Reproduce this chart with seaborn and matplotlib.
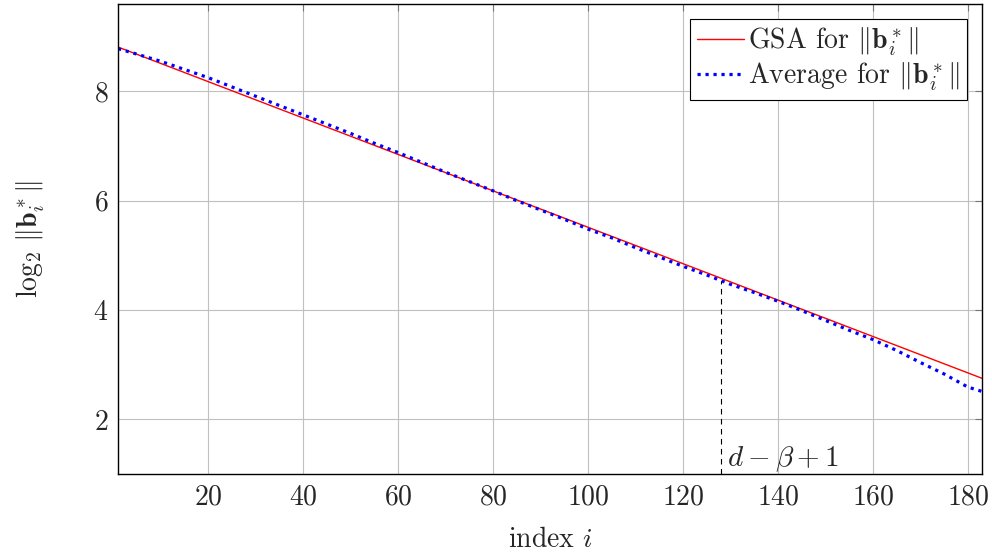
import matplotlib
matplotlib.use("Agg")
import matplotlib.pyplot as plt
import seaborn as sns
import pandas as pd

# Data
gsa_x = [1, 183]
gsa_y = [8.81, 2.75]

avg_x = [1, 5, 10, 15, 20, 25, 30, 35, 40, 45, 50, 55, 60, 65, 70, 75, 80, 85, 90,
         95, 100, 105, 110, 115, 120, 125, 130, 135, 140, 145, 150, 155, 160, 165,
         170, 175, 180, 183]
avg_y = [8.78, 8.68, 8.55, 8.40, 8.25, 8.08, 7.91, 7.74, 7.57, 7.40, 7.23, 7.05,
         6.88, 6.70, 6.52, 6.35, 6.18, 6.00, 5.83, 5.66, 5.48, 5.32, 5.14, 4.97,
         4.80, 4.64, 4.47, 4.32, 4.16, 3.99, 3.81, 3.63, 3.46, 3.26, 3.04, 2.83,
         2.59, 2.51]

marker_x = 128
marker_label = r"$d-\beta+1$"
x_ticks = [20, 40, 60, 80, 100, 120, 140, 160, 180]
y_ticks = [2, 4, 6, 8]

sns.set_theme(style="whitegrid")
plt.rcParams["font.family"] = ["cmr10", "DejaVu Serif"]
plt.rcParams["mathtext.fontset"] = "cm"
plt.rcParams["axes.formatter.use_mathtext"] = True
plt.rcParams["axes.unicode_minus"] = False

FS = 20

fig, ax = plt.subplots(figsize=(9.92, 5.54), dpi=100)
fig.subplots_adjust(left=0.119, right=0.990, top=0.993, bottom=0.1444)

gsa_df = pd.DataFrame({"i": gsa_x, "v": gsa_y})
avg_df = pd.DataFrame({"i": avg_x, "v": avg_y})

sns.lineplot(data=gsa_df, x="i", y="v", ax=ax, color="red", linewidth=1.0,
             label=r"GSA for $\Vert\mathbf{b}_i^*\Vert$")
sns.lineplot(data=avg_df, x="i", y="v", ax=ax, color="blue", linewidth=2.3,
             linestyle=(0, (1, 1.5)),
             label=r"Average for $\Vert\mathbf{b}_i^*\Vert$")

ax.vlines(marker_x, 1.0, 4.53, colors="black", linestyles=(0, (5, 4)), linewidth=0.8)
ax.text(marker_x + 1.3, 1.0, marker_label, fontsize=FS + 1, ha="left", va="bottom")

ax.set_xlim(1, 183)
ax.set_ylim(1.0, 9.6)
ax.set_xticks(x_ticks)
ax.set_yticks(y_ticks)
ax.grid(True, color="#c0c0c0", linewidth=0.8)
for s in ax.spines.values():
    s.set_color("black")
    s.set_linewidth(1.0)
ax.tick_params(axis="both", which="both", direction="in", length=5, width=0.8,
               color="#777777", top=True, right=True, labelsize=FS, pad=7)
ax.set_xlabel("index $i$", fontsize=FS, labelpad=12)
ax.set_ylabel(r"$\log_2\,\Vert\mathbf{b}_i^*\Vert$", fontsize=FS, labelpad=33)

leg = ax.legend(loc="upper right", fontsize=FS, frameon=True, fancybox=False,
                framealpha=1, edgecolor="black", handlelength=1.7,
                handletextpad=0.15, borderpad=0.25, labelspacing=0.1,
                borderaxespad=0.55)
leg.get_frame().set_linewidth(0.8)

fig.savefig("out.png", dpi=100)
